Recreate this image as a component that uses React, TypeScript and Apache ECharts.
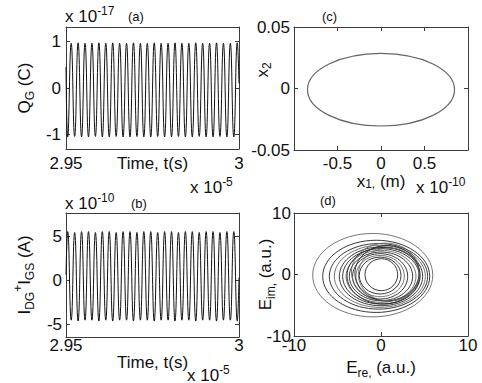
import React, { useEffect, useRef } from 'react';
import * as echarts from 'echarts';

const FONT = "'Liberation Sans', Arial, Helvetica, sans-serif";
const INK = '#111';
const FRAME = '#3c3c3c';

// ---------- panel (a) & (b): time axis ----------
const TIME_RANGE = [2.95, 3.0];
const TIME_TICKS = [2.95, 3];

// (a) Q_G  (x 1e-17 C) : successive extrema
const QG_TICKS = [-1, 0, 1];
const QG_START = 0.45;
const QG_EXTREMA = [
  -1.05, 0.96, -1.04, 0.97, -1.05, 0.96, -1.05, 0.96, -1.04, 0.97,
  -1.05, 0.96, -1.05, 0.97, -1.04, 0.96, -1.05, 0.96, -1.05, 0.97,
  -1.04, 0.96, -1.05, 0.96, -1.05, 0.97, -1.04, 0.96, -1.05, 0.96,
  -1.05, 0.97, -1.04, 0.96, -1.05, 0.96, -1.05, 0.97, -1.04, 0.96,
  -1.05, 0.96, -1.05, 0.97, -1.04, 0.96, -1.05, 0.96, -1.05, 0.97,
];
const QG_END = 0.1;

// (b) I_DG + I_GS (x 1e-10 A)
const I_TICKS = [-5, 0, 5];
const I_START = 0.6;
const I_EXTREMA = [
  5.5, -4.5, 5.4, -4.6, 5.5, -4.5, 5.5, -4.5, 5.4, -4.6,
  5.5, -4.5, 5.5, -4.6, 5.4, -4.5, 5.5, -4.5, 5.5, -4.6,
  5.4, -4.5, 5.5, -4.5, 5.5, -4.6, 5.4, -4.5, 5.5, -4.5,
  5.5, -4.6, 5.4, -4.5, 5.5, -4.5, 5.5, -4.6, 5.4, -4.5,
  5.5, -4.5, 5.5, -4.6, 5.4, -4.5, 5.5, -4.5, 5.5, -4.6,
];
const I_END = 0.3;

// ---------- panel (c): phase orbit ----------
const X1_TICKS = [-0.5, 0, 0.5];
const X2_TICKS = [-0.05, 0, 0.05];
// [centre x1, centre x2, semi-axis x1, semi-axis x2]
const ORBIT_C = [[0.0, -0.001, 0.845, 0.0295]];

// ---------- panel (d): E field rings ----------
const E_TICKS = [-10, 0, 10];
// [centre Ere, centre Eim, semi-axis Ere, semi-axis Eim]
const RINGS_D = [
  [-0.95, -0.11, 6.9, 6.78],
  [-0.55, -0.3, 6.15, 5.87],
  [-0.29, -0.3, 5.65, 5.33],
  [-0.13, -0.3, 5.23, 5.05],
  [0.0, -0.3, 4.79, 4.78],
  [0.0, -0.3, 4.41, 4.5],
  [0.0, -0.3, 4.02, 4.23],
  [0.0, -0.3, 3.64, 3.96],
  [-0.1, -0.3, 3.17, 3.69],
  [-0.1, -0.25, 2.78, 3.35],
  [-0.1, -0.17, 2.4, 3.0],
  [0.04, -0.03, 1.88, 2.6],
  [0.5, 0.4, 3.9, 4.7],
  [0.7, 0.2, 3.7, 4.5],
  [0.3, -0.2, 4.2, 4.6],
  [0.9, 0.0, 3.5, 4.3],
];

function waveform(extrema: number[], start: number, end: number) {
  const step = (TIME_RANGE[1] - TIME_RANGE[0]) / extrema.length;
  const pts: number[][] = [[TIME_RANGE[0], start]];
  extrema.forEach((v, i) => pts.push([TIME_RANGE[0] + step * (i + 0.5), v]));
  pts.push([TIME_RANGE[1], end]);
  return pts;
}

const RICH = {
  p: { fontSize: 12, fontFamily: FONT, color: INK, fill: INK, verticalAlign: 'top' },
  s: { fontSize: 12, fontFamily: FONT, color: INK, fill: INK, verticalAlign: 'bottom' },
};

const nameStyle = (lineHeight = 24) => ({
  fontSize: 17,
  fontFamily: FONT,
  color: INK,
  lineHeight,
  rich: RICH,
});

function xAxes(grid: number, min: number, max: number, ticks: number[], margin: number, name: string, nameGap: number, nameLH = 24) {
  const common = {
    type: 'value',
    gridIndex: grid,
    min,
    max,
    axisLine: { show: true, onZero: false, lineStyle: { color: FRAME, width: 1 } },
    axisTick: { show: true, inside: true, length: 4, customValues: ticks, lineStyle: { color: FRAME } },
    splitLine: { show: false },
  };
  return [
    {
      ...common,
      position: 'bottom',
      axisLabel: { show: true, customValues: ticks, margin, fontSize: 17, fontFamily: FONT, color: INK },
      name,
      nameLocation: 'middle',
      nameGap,
      nameMoveOverlap: false,
      nameTextStyle: nameStyle(nameLH),
    },
    { ...common, position: 'top', axisLabel: { show: false } },
  ];
}

function yAxes(grid: number, min: number, max: number, ticks: number[], margin: number, name: string, nameGap: number) {
  const common = {
    type: 'value',
    gridIndex: grid,
    min,
    max,
    axisLine: { show: true, onZero: false, lineStyle: { color: FRAME, width: 1 } },
    axisTick: { show: true, inside: true, length: 4, customValues: ticks, lineStyle: { color: FRAME } },
    splitLine: { show: false },
  };
  return [
    {
      ...common,
      position: 'left',
      axisLabel: { show: true, customValues: ticks, margin, fontSize: 17, fontFamily: FONT, color: INK },
      name,
      nameLocation: 'middle',
      nameGap,
      nameRotate: 90,
      nameMoveOverlap: false,
      nameTextStyle: nameStyle(),
    },
    { ...common, position: 'right', axisLabel: { show: false } },
  ];
}

function ellipseRender(strokeFor: (i: number) => string, width: number) {
  return (params: any, api: any) => {
    const c = api.coord([api.value(0), api.value(1)]);
    const s = api.size([api.value(2), api.value(3)]);
    return {
      type: 'ellipse',
      silent: true,
      shape: { cx: c[0], cy: c[1], rx: s[0], ry: s[1] },
      style: { fill: 'none', stroke: strokeFor(params.dataIndex), lineWidth: width },
    };
  };
}

function txt(x: number, y: number, text: string, size = 17, rotation = 0, align = 'left') {
  return {
    type: 'text',
    x,
    y,
    rotation,
    silent: true,
    style: {
      text,
      fontSize: size,
      fontFamily: FONT,
      fill: INK,
      lineHeight: 22,
      align,
      verticalAlign: 'middle',
      rich: RICH,
    },
  };
}

const option: any = {
  animation: false,
  backgroundColor: '#fff',
  textStyle: { fontFamily: FONT },
  grid: [
    { left: 66, top: 27, width: 173, height: 122 },
    { left: 66, top: 213, width: 173, height: 124 },
    { left: 294, top: 27, width: 174, height: 123 },
    { left: 294, top: 213, width: 174, height: 123 },
  ],
  xAxis: [
    ...xAxes(0, TIME_RANGE[0], TIME_RANGE[1], TIME_TICKS, 6, 'Time, t(s)', 2),
    ...xAxes(1, TIME_RANGE[0], TIME_RANGE[1], TIME_TICKS, 0, 'Time, t(s)', 13),
    ...xAxes(2, -1, 1, X1_TICKS, 5, 'x{s|1,} (m)', 22, 18),
    ...xAxes(3, -10, 10, E_TICKS, 1, 'E{s|re,} (a.u.)', 19),
  ],
  yAxis: [
    ...yAxes(0, -1.31, 1.31, QG_TICKS, 5, 'Q{s|G} (C)', 30),
    ...yAxes(1, -6.4, 7.6, I_TICKS, 4, 'I{s|DG}{p|+}I{s|GS} (A)', 30),
    ...yAxes(2, -0.05, 0.05, X2_TICKS, 4, '', 20),
    ...yAxes(3, -10, 10, E_TICKS, 3, 'E{s|im,} (a.u.)', 17),
  ],
  series: [
    {
      type: 'line',
      xAxisIndex: 0,
      yAxisIndex: 0,
      data: waveform(QG_EXTREMA, QG_START, QG_END),
      smooth: true,
      symbol: 'none',
      lineStyle: { color: INK, width: 1 },
    },
    {
      type: 'line',
      xAxisIndex: 2,
      yAxisIndex: 2,
      data: waveform(I_EXTREMA, I_START, I_END),
      smooth: true,
      symbol: 'none',
      lineStyle: { color: INK, width: 1 },
    },
    {
      type: 'custom',
      xAxisIndex: 4,
      yAxisIndex: 4,
      data: ORBIT_C,
      encode: { x: 0, y: 1 },
      renderItem: ellipseRender(() => '#666', 1.2),
    },
    {
      type: 'custom',
      xAxisIndex: 6,
      yAxisIndex: 6,
      data: RINGS_D,
      encode: { x: 0, y: 1 },
      renderItem: ellipseRender((i) => (i % 3 === 0 ? '#666' : '#222'), 0.9),
    },
  ],
  graphic: [
    txt(65, 16, 'x 10{p|-17}'),
    txt(128, 16, '(a)', 13),
    txt(190, 187, 'x 10{p|-5}'),
    txt(65, 203, 'x 10{p|-10}'),
    txt(131, 203, '(b)', 13),
    txt(187, 375, 'x 10{p|-5}'),
    txt(322, 16, '(c)', 13),
    txt(262, 70, 'x{s|2}', 17, Math.PI / 2, 'center'),
    txt(416, 187, 'x 10{p|-10}'),
    txt(320, 200, '(d)', 13),
  ],
};

export default function App() {
  const ref = useRef<HTMLDivElement>(null);
  useEffect(() => {
    const chart = echarts.init(ref.current!, null, { renderer: 'svg' });
    chart.setOption(option);
    return () => chart.dispose();
  }, []);
  return (
    <div
      ref={ref}
      style={{ position: 'fixed', left: 0, top: 0, width: 482, height: 383, background: '#fff' }}
    />
  );
}
